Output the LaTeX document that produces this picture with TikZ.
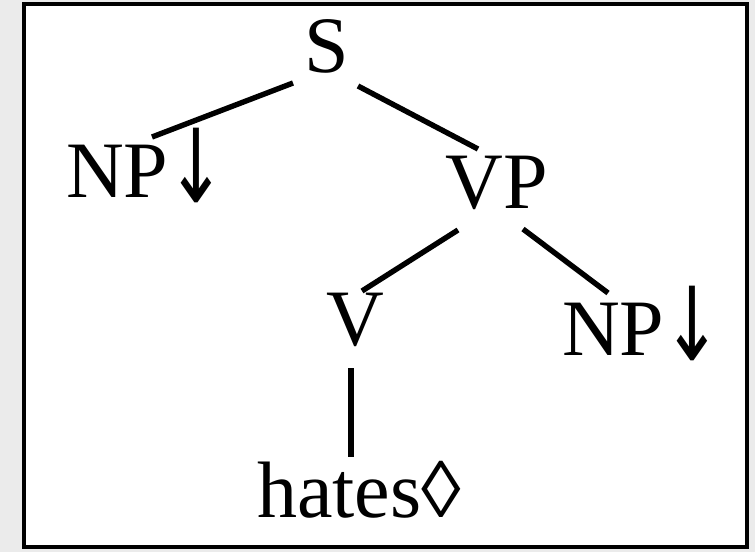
\documentclass[tikz,border=0pt]{standalone}
\usepackage{fontspec}
\usepackage{graphicx}
\setmainfont{Liberation Serif}
\newfontfamily\arrowfont{DejaVu Sans}
\usetikzlibrary{arrows.meta}
\definecolor{pagegray}{RGB}{235,235,235}
\newcommand{\subst}{\kern-2pt\raisebox{-5pt}{\scalebox{0.7}[1]{\arrowfont\fontsize{102}{110}\selectfont ↓}}}
\tikzset{every node/.append style={font=\fontsize{80}{96}\selectfont, inner sep=0pt, anchor=base}}
\tikzset{branch/.style={line width=5.4pt}}

\begin{document}
\begin{tikzpicture}[x=1pt, y=1pt]
    \fill[pagegray] (0,0) rectangle (755,-552);
    \draw[line width=4.5pt, fill=white] (24,-4) rectangle (747,-547);

    \node (s) at (327,-72) {S};
    \node[anchor=base west] (np1) at (66,-197) {NP\subst};
    \node (vp) at (497,-208) {VP};
    \node (v) at (355,-345) {V};
    \node[anchor=base west] (np2) at (562,-355) {NP\subst};
    \node (hates) at (359,-517) {hates◊};

    \draw[branch]
      ([shift={(-34pt,-11pt)}]s.base) edge ([shift={(86pt,60pt)}]np1.base west)
      ([shift={(31pt,-14pt)}]s.base) edge ([shift={(-19pt,59pt)}]vp.base)
      ([shift={(-39pt,-22pt)}]vp.base) edge ([shift={(7pt,54pt)}]v.base)
      ([shift={(26pt,-21pt)}]vp.base) edge ([shift={(46pt,62pt)}]np2.base west)
      ([shift={(-4pt,-23pt)}]v.base) edge ([shift={(-8pt,60pt)}]hates.base);
  \end{tikzpicture}
\end{document}
